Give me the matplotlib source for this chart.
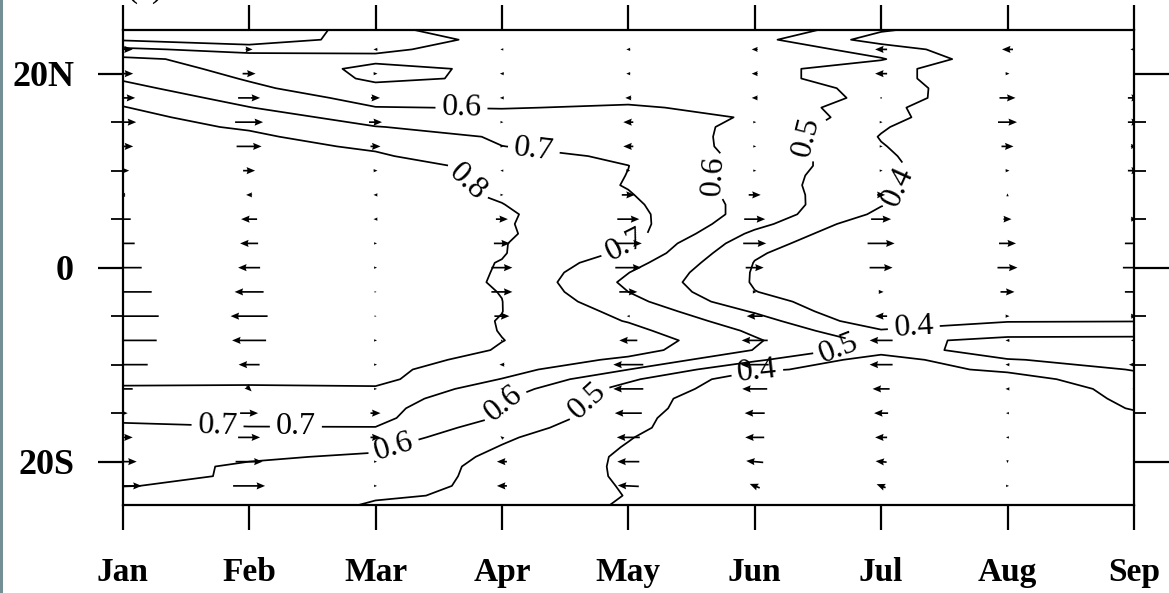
import numpy as np
import matplotlib
matplotlib.use("Agg")
import matplotlib.pyplot as plt
from matplotlib.patches import Rectangle

plt.rcParams['font.family'] = ['Liberation Serif', 'DejaVu Serif']

months = ['Jan', 'Feb', 'Mar', 'Apr', 'May', 'Jun', 'Jul', 'Aug', 'Sep']
lat = np.arange(24.5, -25.0, -1.0)          # 50 rows, north -> south
levels = [0.4, 0.5, 0.6, 0.7, 0.8]

# contour field, one list per month (24.5N ... 24.5S)
jan = [0.30, 0.39, 0.52, 0.62, 0.66, 0.69, 0.73, 0.77, 0.805, 0.815, 0.82, 0.83, 0.84, 0.845, 0.85, 0.85, 0.855,
       0.855, 0.86, 0.86, 0.86, 0.86, 0.86, 0.86, 0.86, 0.86, 0.86, 0.86, 0.86, 0.86, 0.86, 0.86, 0.86, 0.86,
       0.855, 0.85, 0.82, 0.79, 0.77, 0.745, 0.72, 0.68, 0.677, 0.662, 0.646, 0.63, 0.615, 0.602, 0.57, 0.55]
feb = [0.30, 0.334, 0.463, 0.561, 0.565, 0.591, 0.62, 0.662, 0.703, 0.776, 0.794, 0.81, 0.825, 0.83, 0.84, 0.845,
       0.85, 0.85, 0.855, 0.855, 0.855, 0.855, 0.855, 0.855, 0.855, 0.855, 0.855, 0.855, 0.855, 0.855, 0.855,
       0.855, 0.855, 0.855, 0.85, 0.845, 0.815, 0.79, 0.765, 0.74, 0.715, 0.698, 0.669, 0.641, 0.611, 0.589,
       0.594, 0.587, 0.575, 0.56]
mar = [0.46, 0.45, 0.485, 0.52, 0.477, 0.483, 0.525, 0.565, 0.603, 0.633, 0.705, 0.768, 0.789, 0.81, 0.83, 0.835,
       0.84, 0.845, 0.85, 0.85, 0.85, 0.85, 0.85, 0.85, 0.85, 0.85, 0.85, 0.85, 0.85, 0.85, 0.85, 0.85, 0.85,
       0.85, 0.84, 0.825, 0.825, 0.79, 0.757, 0.733, 0.722, 0.698, 0.657, 0.616, 0.588, 0.569, 0.549, 0.529,
       0.51, 0.49]
apr = [0.59, 0.526, 0.537, 0.55, 0.515, 0.514, 0.54, 0.57, 0.596, 0.63, 0.643, 0.687, 0.701, 0.743, 0.779, 0.784,
       0.787, 0.791, 0.802, 0.811, 0.807, 0.809, 0.805, 0.805, 0.797, 0.795, 0.793, 0.798, 0.801, 0.801, 0.797,
       0.798, 0.801, 0.795, 0.77, 0.74, 0.697, 0.647, 0.61, 0.596, 0.59, 0.547, 0.515, 0.495, 0.477, 0.468,
       0.474, 0.481, 0.485, 0.48]
may = [0.57, 0.55, 0.56, 0.57, 0.56, 0.56, 0.57, 0.58, 0.609, 0.625, 0.64, 0.655, 0.668, 0.68, 0.701, 0.698,
       0.694, 0.707, 0.72, 0.73, 0.738, 0.739, 0.702, 0.682, 0.639, 0.602, 0.581, 0.60, 0.633, 0.671, 0.695,
       0.727, 0.76, 0.74, 0.68, 0.601, 0.517, 0.466, 0.45, 0.446, 0.429, 0.423, 0.405, 0.394, 0.386, 0.386,
       0.386, 0.391, 0.396, 0.386]
jun = [0.59, 0.531, 0.58, 0.58, 0.535, 0.535, 0.574, 0.58, 0.578, 0.595, 0.582, 0.573, 0.568, 0.573, 0.56, 0.552,
       0.554, 0.56, 0.564, 0.561, 0.53, 0.479, 0.44, 0.41, 0.397, 0.392, 0.392, 0.402, 0.43, 0.49, 0.545, 0.584,
       0.61, 0.597, 0.517, 0.415, 0.34, 0.341, 0.31, 0.30, 0.303, 0.30, 0.30, 0.30, 0.30, 0.30, 0.31, 0.31,
       0.31, 0.31]
jul = [0.41, 0.359, 0.45, 0.508, 0.44, 0.44, 0.46, 0.47, 0.43, 0.437, 0.41, 0.395, 0.405, 0.415, 0.43, 0.422,
       0.41, 0.41, 0.405, 0.38, 0.33, 0.31, 0.30, 0.31, 0.32, 0.32, 0.32, 0.33, 0.33, 0.30, 0.33, 0.409, 0.47,
       0.445, 0.35, 0.36, 0.33, 0.33, 0.32, 0.31, 0.31, 0.31, 0.31, 0.31, 0.31, 0.31, 0.31, 0.31, 0.31, 0.31]
aug = [0.33, 0.33, 0.31, 0.316, 0.30, 0.30, 0.30, 0.28, 0.28, 0.283, 0.27, 0.30, 0.30, 0.30, 0.27, 0.275, 0.34,
       0.30, 0.30, 0.33, 0.33, 0.32, 0.32, 0.32, 0.32, 0.32, 0.32, 0.32, 0.33, 0.34, 0.395, 0.45, 0.527, 0.555,
       0.495, 0.417, 0.36, 0.35, 0.34, 0.33, 0.33, 0.32, 0.32, 0.32, 0.32, 0.32, 0.32, 0.32, 0.32, 0.32]
sep = [0.33, 0.33, 0.32, 0.32, 0.32, 0.32, 0.32, 0.31, 0.31, 0.31, 0.31, 0.31, 0.31, 0.31, 0.31, 0.31, 0.32,
       0.32, 0.32, 0.32, 0.32, 0.32, 0.32, 0.32, 0.32, 0.32, 0.32, 0.32, 0.33, 0.35, 0.397, 0.46, 0.525, 0.55,
       0.53, 0.506, 0.463, 0.424, 0.416, 0.405, 0.38, 0.36, 0.35, 0.34, 0.33, 0.33, 0.33, 0.33, 0.33, 0.33]

# wind vectors (u, v), 22.5N ... 22.5S every 2.5 deg
vec_lat = np.arange(22.5, -23.0, -2.5)
u_jan = [4.0, 4.2, 5.0, 5.4, 4.2, 2.6, -1.0, -3.2, -4.8, -7.6, -11.6, -14.4, -13.6, -10.0, -4.0, 2.0, 4.0, 5.6, 7.6]
u_feb = [1.4, 2.6, 4.4, 5.6, 5.0, 2.4, -1.2, -3.2, -3.6, -4.4, -5.8, -7.4, -6.8, -4.2, 1.0, 3.6, 4.4, 5.4, 6.4]
u_mar = [-0.8, 0.8, 1.8, 2.6, 2.0, 0.8, -0.8, -0.8, 0.6, 0.6, 0.4, 0.4, 0.6, 0.6, 0.6, 2.0, 2.0, 0.6, 0.6]
u_apr = [-0.6, -0.8, -0.8, 0.6, 0.6, -0.6, 0.6, 2.4, 3.2, 4.2, 4.2, 3.0, 0.4, -1.0, -0.6, -0.6, -0.6, -2.0, -2.0]
u_may = [-0.8, -0.8, -1.2, -2.0, -2.0, 0.8, 2.6, 4.4, 5.4, 5.2, 3.6, -0.6, -3.6, -6.0, -6.0, -5.4, -4.6, -4.4, -4.2]
u_jun = [-1.2, -1.2, -1.2, 0.6, 0.6, 0.6, 2.4, 4.2, 4.6, 3.6, 0.8, -3.2, -5.2, -5.6, -5.0, -4.0, -3.8, -3.4, -2.0]
u_jul = [-2.4, -2.4, 0.3, 0.6, 0.6, 0.6, 1.6, 4.0, 5.4, 4.6, 1.0, -2.4, -4.6, -4.6, -3.4, -2.8, -2.4, -2.2, -1.8]
u_aug = [-2.2, 0.8, 3.2, 3.8, 2.4, 0.8, 0.0, 1.6, 3.4, 4.0, 2.8, 0.8, -0.8, -0.8, -0.8, -0.6, -0.6, 0.0, 0.6]
u_sep = [-1.4, 0.2, 2.4, 2.4, 1.2, 2.4, 0.3, 1.2, 3.6, 4.4, 3.6, 1.2, -1.2, -2.0, -0.6, 0.2, 0.3, 0.2, 0.3]
v_jan = [0.0] * 19
v_feb = [0.0] * 14 + [-1.0, 0.0, 0.0, 0.0, 0.0]
v_mar = [0.0] * 19
v_apr = [0.0] * 16 + [0.5, 0.0, 0.0]
v_may = [0.0] * 18 + [0.2]
v_jun = [0.0] * 17 + [0.3, 0.8]
v_jul = [0.0] * 17 + [0.2, 0.7]
v_aug = [0.0] * 6 + [0.6] + [0.0] * 10 + [-0.6, 0.0]
v_sep = [0.0] * 19

# ---------------------------------------------------------------------------
W, H = 1169, 593
fig = plt.figure(figsize=(W / 100, H / 100), dpi=100)
ax = fig.add_axes([122.7 / W, 1 - 505.3 / H, (1133.9 - 122.7) / W, (505.3 - 30.0) / H])

fig.patches.append(Rectangle((0, 0), 3 / W, 1, transform=fig.transFigure,
                             facecolor='#748f96', edgecolor='none', zorder=0))

x = np.arange(len(months))
Z = np.array([jan, feb, mar, apr, may, jun, jul, aug, sep]).T
cs = ax.contour(x, lat, Z, levels=levels, colors='black', linewidths=1.25)

label_pos = [(2.68, 16.25), (3.25, 11.87), (2.72, 8.73), (4.66, 9.45), (5.41, 13.47),
             (6.11, 8.62), (4.0, 1.61), (6.26, -6.43), (5.68, -8.74), (5.02, -10.76),
             (3.70, -13.9), (3.02, -14.16), (2.15, -18.8), (0.75, -16.44), (1.37, -16.44)]
ax.clabel(cs, inline=True, fmt='%.1f', fontsize=23, manual=label_pos, inline_spacing=6)

U = np.array([u_jan, u_feb, u_mar, u_apr, u_may, u_jun, u_jul, u_aug, u_sep]).T
V = np.array([v_jan, v_feb, v_mar, v_apr, v_may, v_jun, v_jul, v_aug, v_sep]).T
XX, YY = np.meshgrid(x, vec_lat)
ax.quiver(XX, YY, U, V, pivot='middle', units='dots', width=1.7, scale=0.2,
          scale_units='dots', headwidth=4.2, headlength=5.0, headaxislength=4.5,
          color='black', zorder=3)

ax.set_xlim(0, 8)
ax.set_ylim(-24.5, 24.5)
ax.set_xticks(x)
ax.set_xticklabels(months)
ax.set_yticks([-20, 0, 20])
ax.set_yticklabels(['20S', '0', '20N'])
ax.set_yticks([-15, -10, -5, 5, 10, 15], minor=True)
ax.set_xticks([], minor=True)

for s in ax.spines.values():
    s.set_linewidth(1.6)
ax.tick_params(axis='x', which='major', direction='out', length=18, width=1.6,
               top=True, bottom=True, labelsize=24, pad=19)
ax.tick_params(axis='y', which='major', direction='out', length=18, width=1.6,
               left=True, right=True, labelsize=26, pad=17)
ax.tick_params(axis='y', which='minor', direction='out', length=8.5, width=1.3,
               left=True, right=True)
for t in ax.yaxis.get_major_ticks():
    t.tick2line.set_markersize(27)
for lab in ax.get_xticklabels() + ax.get_yticklabels():
    lab.set_fontweight('bold')

fig.text(127 / W, 1 + 3 / H, '(a)', fontsize=24, ha='left', va='baseline')

fig.savefig('out.png', dpi=100)
